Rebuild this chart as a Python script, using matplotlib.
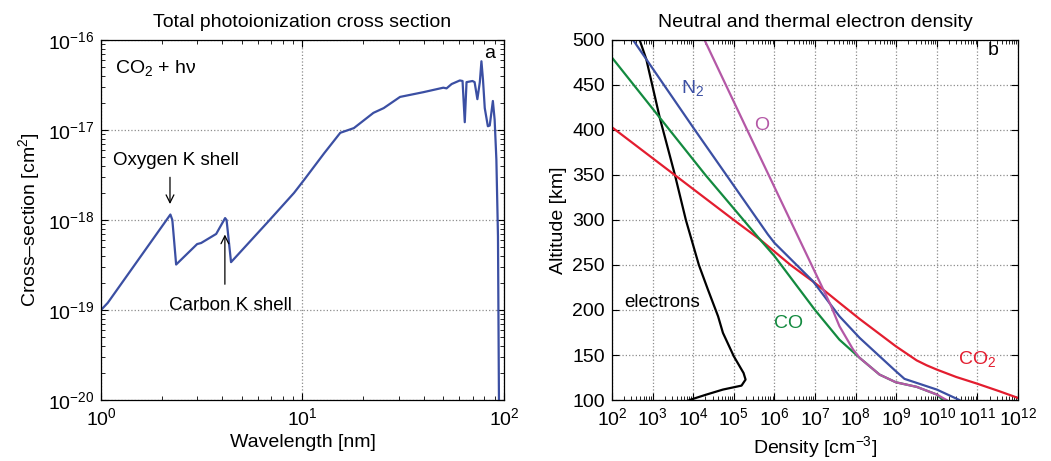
import matplotlib
matplotlib.use("Agg")
import matplotlib.pyplot as plt
import matplotlib.ticker as ticker
import numpy as np

plt.rcParams['font.family'] = ['Liberation Sans', 'DejaVu Sans']
plt.rcParams['mathtext.fontset'] = 'custom'
plt.rcParams['mathtext.rm'] = 'Liberation Sans'
plt.rcParams['mathtext.it'] = 'Liberation Sans:italic'
plt.rcParams['mathtext.default'] = 'regular'
plt.rcParams['font.size'] = 14

# --- panel a: CO2 total photoionization cross section ---
wavelength = [1.0, 1.08, 2.21, 2.26, 2.36, 3.0, 3.14, 3.73, 4.13, 4.2, 4.42,
              6.7, 9.08, 10.2, 12.8, 15.4, 18.0, 22.5, 25.3, 30.5, 39.8,
              50.0, 51.9, 55.0, 60.4, 62.3, 63.9, 65.2, 69.8, 71.5, 73.8,
              75.9, 77.3, 78.7, 80.3, 83.2, 85.0, 88.1, 89.9, 91.7, 93.4, 94.5]
cross_section = [1.0e-19, 1.2e-19, 1.15e-18, 1.0e-18, 3.2e-19, 5.4e-19, 5.55e-19,
                 7.0e-19, 1.05e-18, 1.0e-18, 3.4e-19, 9.4e-19, 2.0e-18, 2.8e-18,
                 5.5e-18, 9.3e-18, 1.05e-17, 1.55e-17, 1.75e-17, 2.33e-17, 2.63e-17,
                 2.95e-17, 2.9e-17, 3.24e-17, 3.55e-17, 3.5e-17, 1.22e-17, 3.4e-17,
                 3.5e-17, 3.4e-17, 2.2e-17, 3.4e-17, 5.8e-17, 3.6e-17, 1.75e-17,
                 1.1e-17, 1.12e-17, 2.1e-17, 1.3e-17, 4.7e-18, 6.6e-19, 8e-21]
xsec_ticks = [1e-20, 1e-19, 1e-18, 1e-17, 1e-16]

# --- panel b: neutral and electron density profiles ---
alt_co2 = [403, 350, 300, 278.4, 250, 230, 208, 190, 159.7, 144, 138.6, 133.8, 125.6,
           118.2, 109.7, 102.3, 100]
n_co2 = [1.0e2, 3.5e3, 1.0e5, 4.4e5, 2.5e6, 1.0e7, 4.0e7, 1.26e8, 9.8e8, 3.2e9, 5.6e9,
         1.0e10, 3.0e10, 9.8e10, 3.5e11, 1.0e12, 1.3e12]

alt_co = [480.4, 413.7, 350, 278.4, 260, 200, 167, 146.8, 128.2, 119.7, 114.6, 106.1, 100]
n_co = [1.0e2, 1.5e3, 2.0e4, 4.4e5, 1.0e6, 1.0e7, 4.0e7, 1.26e8, 3.9e8, 9.8e8, 3.2e9,
        1.0e10, 1.4e10]

alt_n2 = [500, 400, 284, 274.6, 232, 193, 169, 148.6, 132, 123.5, 119, 111.6, 100]
n_n2 = [3.3e2, 1.1e4, 6.9e5, 1.0e6, 8.9e6, 4.0e7, 1.26e8, 3.9e8, 9.8e8, 1.6e9, 3.2e9,
        1.0e10, 3.6e10]

alt_o = [500, 398.8, 287.6, 222.8, 204.2, 182, 156, 146.8, 128.2, 119.7, 114.6, 106.1, 100]
n_o = [1.9e4, 2.2e5, 3.3e6, 1.6e7, 2.5e7, 4.0e7, 8.7e7, 1.26e8, 3.9e8, 9.8e8, 3.2e9,
       1.0e10, 1.74e10]

alt_e = [500, 478.5, 413.7, 350, 300, 250, 222.8, 193, 174.6, 148.6, 130, 122.7,
         116, 111.6, 106, 100]
n_e = [4.8e2, 7.0e2, 1.5e3, 3.55e3, 6.6e3, 1.38e4, 2.3e4, 4.1e4, 5.4e4, 1.0e5,
       1.74e5, 1.95e5, 1.55e5, 5.4e4, 2.1e4, 8.1e3]
dens_ticks = [1e2, 1e3, 1e4, 1e5, 1e6, 1e7, 1e8, 1e9, 1e10, 1e11, 1e12]

c_blue = '#3b4fa3'
c_green = '#138a3f'
c_red = '#e31d2f'
c_mag = '#b458a6'


def style(ax):
    ax.set_axisbelow(True)
    ax.tick_params(which='both', direction='in', top=True, right=True, labelsize=14)
    ax.tick_params(which='major', length=5, width=0.8, pad=5)
    ax.tick_params(which='minor', length=3, width=0.6)
    ax.grid(True, which='major', linestyle=':', color='0.55', linewidth=0.9)
    for s in ax.spines.values():
        s.set_linewidth(0.9)


fig = plt.figure(figsize=(10.51, 4.61), dpi=100)
ax1 = fig.add_axes([0.0961, 0.1323, 0.3834, 0.781])
ax2 = fig.add_axes([0.5823, 0.1323, 0.3863, 0.781])

# panel a
ax1.plot(wavelength, cross_section, color=c_blue, lw=1.6)
ax1.set_xscale('log')
ax1.set_yscale('log')
ax1.set_xlim(1, 100)
ax1.set_ylim(1e-20, 1e-16)
ax1.set_yticks(xsec_ticks)
ax1.yaxis.set_minor_locator(ticker.LogLocator(base=10, subs=np.arange(2, 10), numticks=10))
style(ax1)
ax1.set_title('Total photoionization cross section', fontsize=14, pad=9)
ax1.set_xlabel('Wavelength [nm]', fontsize=14)
ax1.set_ylabel('Cross\u2013section [cm$^2$]', fontsize=14)

ax1.text(0.035, 0.909, 'CO$_2$ + h\u03bd', transform=ax1.transAxes, fontsize=14,
         ha='left', va='baseline')
ax1.text(0.978, 0.95, 'a', transform=ax1.transAxes, fontsize=14, ha='right', va='baseline')
ax1.text(2.36, 4.05e-18, 'Oxygen K shell', fontsize=13.5, ha='center', va='baseline')
ax1.text(4.41, 1.0e-19, 'Carbon K shell', fontsize=13.5, ha='center', va='baseline')
ax1.annotate('', xy=(2.2, 1.4e-18), xytext=(2.2, 3.2e-18),
             arrowprops=dict(arrowstyle='->', color='black', lw=0.9))
ax1.annotate('', xy=(4.12, 7.4e-19), xytext=(4.12, 1.8e-19),
             arrowprops=dict(arrowstyle='->', color='black', lw=0.9))

# panel b
ax2.plot(n_e, alt_e, color='black', lw=1.6)
ax2.plot(n_co2, alt_co2, color=c_red, lw=1.6)
ax2.plot(n_co, alt_co, color=c_green, lw=1.6)
ax2.plot(n_n2, alt_n2, color=c_blue, lw=1.6)
ax2.plot(n_o, alt_o, color=c_mag, lw=1.6)
ax2.set_xscale('log')
ax2.set_xlim(1e2, 1e12)
ax2.set_ylim(100, 500)
ax2.set_xticks(dens_ticks)
ax2.xaxis.set_minor_locator(ticker.LogLocator(base=10, subs=np.arange(2, 10), numticks=20))
ax2.yaxis.set_major_locator(ticker.MultipleLocator(50))
style(ax2)
ax2.set_title('Neutral and thermal electron density', fontsize=14, pad=9)
ax2.set_xlabel('Density [cm$^{-3}$]', fontsize=14)
ax2.set_ylabel('Altitude [km]', fontsize=14)

ax2.text(0.953, 0.958, 'b', transform=ax2.transAxes, fontsize=14, ha='right', va='baseline')
ax2.text(10 ** 3.69, 441.5, 'N$_2$', color=c_blue, fontsize=14, ha='left', va='baseline')
ax2.text(10 ** 5.50, 399.6, 'O', color=c_mag, fontsize=14, ha='left', va='baseline')
ax2.text(10 ** 2.31, 203.5, 'electrons', color='black', fontsize=13.5, ha='left', va='baseline')
ax2.text(10 ** 6.0, 180.2, 'CO', color=c_green, fontsize=14, ha='left', va='baseline')
ax2.text(10 ** 10.51, 140.2, 'CO$_2$', color=c_red, fontsize=14, ha='left', va='baseline')

fig.savefig('out.png', dpi=100)
